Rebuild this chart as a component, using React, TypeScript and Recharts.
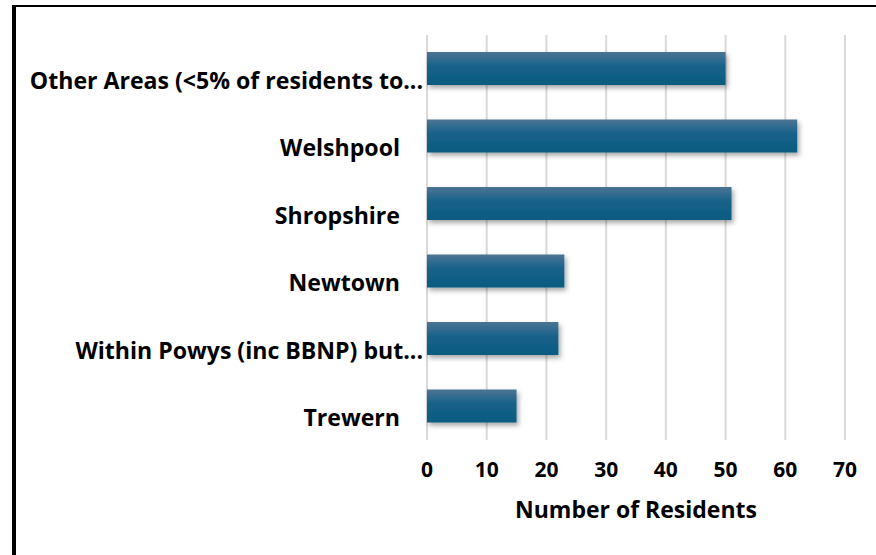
import React from 'react';
import { BarChart, Bar, XAxis, YAxis, CartesianGrid } from 'recharts';

const areas = [
  'Other Areas (<5% of residents to...',
  'Welshpool',
  'Shropshire',
  'Newtown',
  'Within Powys (inc BBNP) but...',
  'Trewern',
];
const residents = [50, 62, 51, 23, 22, 15];
const xTicks = [0, 10, 20, 30, 40, 50, 60, 70];

const data = areas.map((area, i) => ({ area, residents: residents[i] }));

const FONT = '"Open Sans", sans-serif';

const AreaTick = (props: any) => {
  const { x, y, payload } = props;
  const label: string = payload.value;
  // truncated labels run right up to the axis, the others stop a little short
  const tx = label.endsWith('...') ? x + 4 : x - 19;
  return (
    <text
      x={tx}
      y={y + 20}
      textAnchor="end"
      fontFamily={FONT}
      fontWeight={700}
      fontSize={23.1}
      fill="#000"
    >
      {label}
    </text>
  );
};

export default function App() {
  return (
    <div style={{ position: 'absolute', left: 0, top: 0, width: 876, height: 555, background: '#fff' }}>
      <div
        style={{
          position: 'absolute',
          left: 12,
          top: 5,
          right: 0,
          bottom: 0,
          borderLeft: '4px solid #000',
          borderTop: '2px solid #000',
        }}
      />
      <BarChart
        width={876}
        height={555}
        data={data}
        layout="vertical"
        margin={{ top: 35, right: 31, bottom: 0, left: 0 }}
        style={{ position: 'absolute', left: 0, top: 0 }}
      >
        <defs>
          <linearGradient id="barFill" x1="0" y1="0" x2="0" y2="1">
            <stop offset="0%" stopColor="#4b7594" />
            <stop offset="45%" stopColor="#16618a" />
            <stop offset="100%" stopColor="#0b5a80" />
          </linearGradient>
          <filter id="barShadow" x="-10%" y="-30%" width="120%" height="180%">
            <feDropShadow dx="2" dy="3" stdDeviation="2.5" floodColor="#000" floodOpacity="0.35" />
          </filter>
        </defs>
        <CartesianGrid horizontal={false} stroke="#d9d9d9" strokeWidth={2} />
        <XAxis
          type="number"
          domain={[0, 70]}
          ticks={xTicks}
          axisLine={false}
          tickLine={false}
          tickMargin={16}
          height={115}
          tick={{ fill: '#000', fontFamily: FONT, fontWeight: 700, fontSize: 21 }}
          label={{
            value: 'Number of Residents',
            position: 'insideBottom',
            offset: 37,
            fill: '#000',
            fontFamily: FONT,
            fontWeight: 700,
            fontSize: 23,
          }}
        />
        <YAxis
          type="category"
          dataKey="area"
          width={427}
          axisLine={false}
          tickLine={false}
          interval={0}
          tick={<AreaTick />}
        />
        <Bar
          dataKey="residents"
          fill="url(#barFill)"
          barSize={33}
          filter="url(#barShadow)"
          isAnimationActive={false}
        />
      </BarChart>
    </div>
  );
}
